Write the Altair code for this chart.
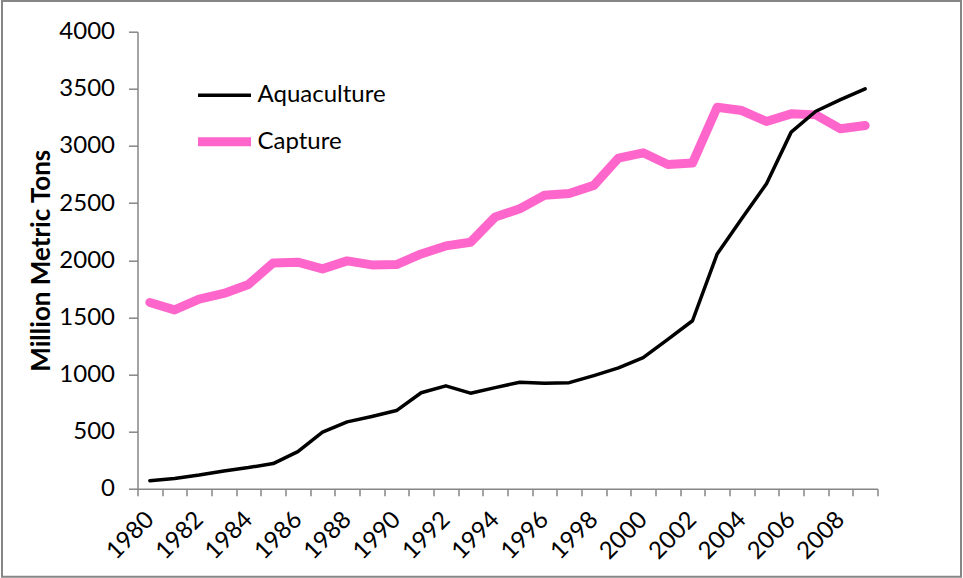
import altair as alt
import pandas as pd

years = [1980, 1981, 1982, 1983, 1984, 1985, 1986, 1987, 1988, 1989,
         1990, 1991, 1992, 1993, 1994, 1995, 1996, 1997, 1998, 1999,
         2000, 2001, 2002, 2003, 2004, 2005, 2006, 2007, 2008, 2009]
aquaculture = [70, 90, 120, 155, 185, 220, 325, 495, 585, 632,
               684, 840, 900, 836, 885, 932, 923, 928, 990, 1057,
               1147, 1307, 1470, 2055, 2364, 2670, 3121, 3304, 3406, 3500]
capture = [1630, 1565, 1660, 1709, 1788, 1976, 1983, 1924, 1994, 1959,
           1962, 2055, 2125, 2157, 2378, 2451, 2568, 2583, 2655, 2894,
           2940, 2838, 2850, 3339, 3310, 3214, 3281, 3272, 3150, 3179]
series_names = ["Aquaculture", "Capture"]
series_colors = ["#000000", "#FF66CC"]
series_widths = [3.5, 9]
y_ticks = [0, 500, 1000, 1500, 2000, 2500, 3000, 3500, 4000]

rows = []
for i, yr in enumerate(years):
    rows.append({"year": str(yr), "series": "Aquaculture", "value": aquaculture[i]})
    rows.append({"year": str(yr), "series": "Capture", "value": capture[i]})
df = pd.DataFrame(rows)

FONT = "Lato"
GRAY = "#868686"
FS = 24

x_enc = alt.X("year:O", sort=[str(y) for y in years],
              scale=alt.Scale(type="band", paddingInner=0, paddingOuter=0),
              axis=alt.Axis(title=None, tickBand="extent", labelAngle=-45,
                            labelAlign="right", labelBaseline="middle",
                            labelExpr="toNumber(datum.value) % 2 == 0 ? datum.value : ''",
                            labelFont=FONT, labelFontSize=FS, labelColor="#000000",
                            labelPadding=20, tickSize=7, tickColor=GRAY,
                            domainColor=GRAY, domainWidth=1.5, tickWidth=1.5,
                            grid=False))
y_enc = alt.Y("value:Q", scale=alt.Scale(domain=[0, 4000], nice=False),
              axis=alt.Axis(title="Million Metric Tons", values=y_ticks, format="d",
                            titleFont=FONT, titleFontSize=26, titleFontWeight="bold",
                            titleColor="#000000", titlePadding=4,
                            labelFont=FONT, labelFontSize=FS, labelColor="#000000",
                            labelPadding=14, tickSize=9, tickColor=GRAY,
                            domainColor=GRAY, domainWidth=1.5, tickWidth=1.5,
                            grid=False))
legend_cfg = dict(title=None, orient="none", legendX=56, legendY=35,
                  symbolType="stroke", symbolSize=2809,
                  labelFont=FONT, labelFontSize=FS,
                  labelColor="#000000", rowPadding=3, labelOffset=2)
color_enc = alt.Color("series:N",
                      scale=alt.Scale(domain=series_names, range=series_colors),
                      legend=alt.Legend(**legend_cfg))
sw_enc = alt.StrokeWidth("series:N",
                         scale=alt.Scale(domain=series_names, range=series_widths),
                         legend=alt.Legend(**legend_cfg))

base = alt.Chart(df)
cap_layer = base.transform_filter(alt.datum.series == "Capture").mark_line(
    strokeJoin="round", strokeCap="round").encode(x=x_enc, y=y_enc, color=color_enc, strokeWidth=sw_enc)
aqua_layer = base.transform_filter(alt.datum.series == "Aquaculture").mark_line(
    strokeJoin="round", strokeCap="round").encode(x=x_enc, y=y_enc, color=color_enc, strokeWidth=sw_enc)

frame = alt.Chart(pd.DataFrame({"a": [0]})).mark_rect(
    fill=None, stroke=GRAY, strokeWidth=2, clip=False).encode(
    x=alt.value(-135.5), x2=alt.value(823.5), y=alt.value(-30.7), y2=alt.value(545))

chart = alt.layer(frame, cap_layer, aqua_layer).properties(
    width=740, height=457, autosize="none",
    padding={"left": 137.5, "top": 31.7, "right": 85.5, "bottom": 89.3},
    background="#ffffff"
).configure_view(stroke=None)

chart.save("out.html", embed_options={"renderer": "svg", "actions": False})
